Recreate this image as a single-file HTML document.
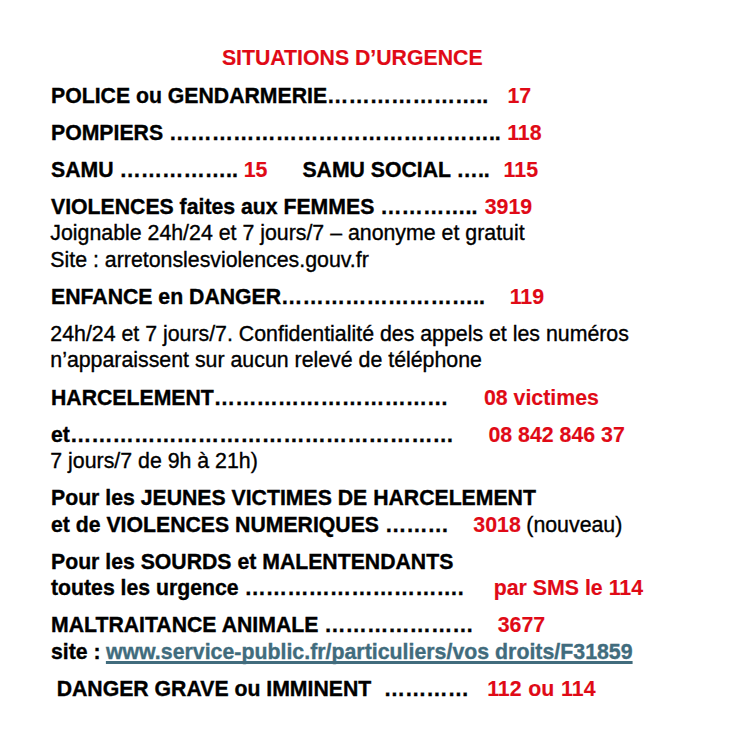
<!DOCTYPE html>
<html><head><meta charset="utf-8"><style>
html,body{margin:0;padding:0;background:#fff;width:735px;height:752px;overflow:hidden}
body{position:relative;font-family:"Liberation Sans",sans-serif;color:#000}
.s{position:absolute;white-space:pre;-webkit-text-stroke:0.35px currentColor;font-size:21.333px;line-height:21.333px}
.b{font-weight:bold;font-size:21.24px}
.d{font-size:21.333px}
.w{word-spacing:0.8px}
.n{font-weight:normal}
.r{color:#e00a16;font-size:21.333px;-webkit-text-stroke:0.15px currentColor}
.u{color:#416c7d;text-decoration:underline;text-decoration-thickness:2.5px;text-underline-offset:1.5px;text-decoration-skip-ink:none;font-size:21.333px}
.h{font-size:21.27px}
</style></head><body>
<div class="s b r h" style="left:221.9px;top:47.8px">SITUATIONS D’URGENCE</div>
<div class="s b" style="left:51.0px;top:85.8px">POLICE ou GENDARMERIE<span class="d">…………………..</span></div>
<div class="s b r" style="left:507.5px;top:85.8px">17</div>
<div class="s b" style="left:51.0px;top:122.8px">POMPIERS <span class="d">………………………………………..</span></div>
<div class="s b r" style="left:507.2px;top:122.8px">118</div>
<div class="s b" style="left:51.0px;top:159.5px">SAMU <span class="d">……………..</span></div>
<div class="s b r" style="left:243.7px;top:159.5px">15</div>
<div class="s b" style="left:302.4px;top:159.5px">SAMU SOCIAL <span class="d">…..</span></div>
<div class="s b r" style="left:503.6px;top:159.5px">115</div>
<div class="s b" style="left:51.0px;top:196.8px">VIOLENCES faites aux FEMMES <span class="d">…………..</span></div>
<div class="s b r" style="left:484.7px;top:196.8px">3919</div>
<div class="s n" style="left:50.3px;top:223.1px">Joignable 24h/24 et 7 jours/7 – anonyme et gratuit</div>
<div class="s n" style="left:50.3px;top:250.4px">Site : arretonslesviolences.gouv.fr</div>
<div class="s b" style="left:51.0px;top:286.6px">ENFANCE en DANGER<span class="d">………………………..</span></div>
<div class="s b r" style="left:509.7px;top:286.6px">119</div>
<div class="s n" style="left:50.3px;top:323.5px">24h/24 et 7 jours/7. Confidentialité des appels et les numéros</div>
<div class="s n" style="left:50.3px;top:350.2px">n’apparaissent sur aucun relevé de téléphone</div>
<div class="s b" style="left:51.0px;top:387.7px">HARCELEMENT<span class="d">……………………………</span></div>
<div class="s b r" style="left:483.9px;top:387.7px">08 victimes</div>
<div class="s b" style="left:51.0px;top:424.5px">et<span class="d">………………………………………………</span></div>
<div class="s b r" style="left:488.4px;top:424.5px">08 842 846 37</div>
<div class="s n" style="left:50.3px;top:450.7px">7 jours/7 de 9h à 21h)</div>
<div class="s b" style="left:51.0px;top:487.7px">Pour les JEUNES VICTIMES DE HARCELEMENT</div>
<div class="s b" style="left:51.0px;top:514.9px">et de VIOLENCES NUMERIQUES <span class="d">………</span></div>
<div class="s b r" style="left:473.3px;top:514.9px">3018</div>
<div class="s n" style="left:526.3px;top:514.9px">(nouveau)</div>
<div class="s b" style="left:51.0px;top:551.6px">Pour les SOURDS et MALENTENDANTS</div>
<div class="s b" style="left:51.0px;top:577.5px">toutes les urgence <span class="d">………………………….</span></div>
<div class="s b r" style="left:493.7px;top:577.5px">par SMS le 114</div>
<div class="s b" style="left:51.0px;top:614.5px">MALTRAITANCE ANIMALE <span class="d">…………………</span></div>
<div class="s b r" style="left:497.7px;top:614.5px">3677</div>
<div class="s b" style="left:51.0px;top:642.2px">site : </div>
<div class="s b u" style="left:105.9px;top:642.2px">www.service-public.fr/particuliers/vos droits/F31859</div>
<div class="s b" style="left:56.7px;top:678.9px">DANGER GRAVE ou IMMINENT </div>
<div class="s b" style="left:383.7px;top:678.9px"><span class="d">…………</span></div>
<div class="s b r w" style="left:487.2px;top:678.9px">112 ou 114</div>
</body></html>
